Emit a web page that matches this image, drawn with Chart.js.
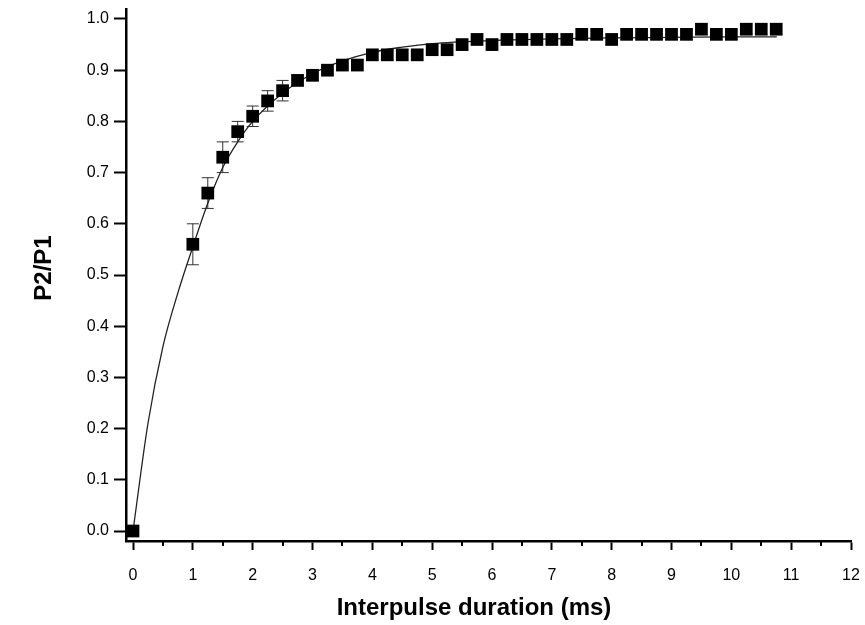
<!DOCTYPE html>
<html><head><meta charset="utf-8">
<script src="https://cdn.jsdelivr.net/npm/chart.js@4"></script>
<style>html,body{margin:0;padding:0;background:#fff}</style>
</head><body>
<canvas id="c" width="865" height="625" style="width:865px;height:625px;display:block"></canvas>
<script>
// Measured data (interpulse duration in ms, P2/P1 ratio, error)
const intervals = [0, 1, 1.25, 1.5, 1.75, 2, 2.25, 2.5, 2.75, 3, 3.25, 3.5, 3.75, 4, 4.25, 4.5, 4.75, 5, 5.25, 5.5, 5.75, 6, 6.25, 6.5, 6.75, 7, 7.25, 7.5, 7.75, 8, 8.25, 8.5, 8.75, 9, 9.25, 9.5, 9.75, 10, 10.25, 10.5, 10.75];
const ratios = [0, 0.56, 0.66, 0.73, 0.78, 0.81, 0.84, 0.86, 0.88, 0.89, 0.90, 0.91, 0.91, 0.93, 0.93, 0.93, 0.93, 0.94, 0.94, 0.95, 0.96, 0.95, 0.96, 0.96, 0.96, 0.96, 0.96, 0.97, 0.97, 0.96, 0.97, 0.97, 0.97, 0.97, 0.97, 0.98, 0.97, 0.97, 0.98, 0.98, 0.98];
const errors = [0, 0.04, 0.03, 0.03, 0.02, 0.02, 0.02, 0.02, 0.01, 0.01, 0.01, 0.01, 0.01, 0.01, 0.01, 0.01, 0.01, 0.01, 0.01, 0.01, 0.01, 0.01, 0.01, 0.01, 0.01, 0.01, 0.01, 0.01, 0.01, 0.01, 0.01, 0.01, 0.01, 0.01, 0.01, 0.01, 0.01, 0.01, 0.01, 0.01, 0.01];
// Fitted curve
const fitX = [0, 0.25, 0.5, 0.75, 1.0, 1.25, 1.5, 1.75, 2.0, 2.5, 3.0, 3.5, 4.0, 4.5, 5.0, 6.0, 7.0, 8.0, 9.0, 10.0, 10.76];
const fitY = [0, 0.21, 0.36, 0.465, 0.555, 0.64, 0.71, 0.76, 0.80, 0.855, 0.893, 0.918, 0.935, 0.945, 0.952, 0.958, 0.961, 0.963, 0.964, 0.965, 0.965];
const xTicks = [0, 1, 2, 3, 4, 5, 6, 7, 8, 9, 10, 11, 12];
const xMinorTicks = [0.5, 1.5, 2.5, 3.5, 4.5, 5.5, 6.5, 7.5, 8.5, 9.5, 10.5, 11.5];
const yTicks = [0, 0.1, 0.2, 0.3, 0.4, 0.5, 0.6, 0.7, 0.8, 0.9, 1.0];
const xTitle = 'Interpulse duration (ms)';
const yTitle = 'P2/P1';

const FONT = "'Liberation Sans', Arial, sans-serif";

const extras = {
  id: 'extras',
  beforeDatasetsDraw(chart) {
    const {ctx, scales: {x, y}} = chart;
    ctx.save();
    ctx.strokeStyle = '#333';
    ctx.lineWidth = 1;
    intervals.forEach((v, i) => {
      const e = errors[i];
      if (!e) return;
      const px = x.getPixelForValue(v);
      const top = y.getPixelForValue(ratios[i] + e);
      const bot = y.getPixelForValue(ratios[i] - e);
      ctx.beginPath();
      ctx.moveTo(px, top); ctx.lineTo(px, bot);
      ctx.moveTo(px - 6, top); ctx.lineTo(px + 6, top);
      ctx.moveTo(px - 6, bot); ctx.lineTo(px + 6, bot);
      ctx.stroke();
    });
    ctx.restore();
  },
  afterDraw(chart) {
    const {ctx, chartArea, scales: {x}} = chart;
    ctx.save();
    ctx.strokeStyle = '#000';
    ctx.lineWidth = 2;
    xMinorTicks.forEach(v => {
      const px = Math.round(x.getPixelForValue(v));
      ctx.beginPath();
      ctx.moveTo(px, chartArea.bottom);
      ctx.lineTo(px, chartArea.bottom + 5);
      ctx.stroke();
    });
    ctx.fillStyle = '#000';
    ctx.font = "bold 24px " + FONT;
    ctx.textAlign = 'center';
    ctx.textBaseline = 'middle';
    ctx.fillText(xTitle, 474, 608);
    ctx.translate(44, 268);
    ctx.rotate(-Math.PI / 2);
    ctx.fillText(yTitle, 0, 0);
    ctx.restore();
  }
};

new Chart(document.getElementById('c'), {
  type: 'scatter',
  data: {
    datasets: [
      {
        data: intervals.map((v, i) => ({x: v, y: ratios[i]})),
        pointStyle: 'rect',
        pointRadius: 9,
        pointBackgroundColor: '#000',
        pointBorderColor: '#000',
        pointBorderWidth: 0,
        showLine: false
      },
      {
        data: fitX.map((v, i) => ({x: v, y: fitY[i]})),
        showLine: true,
        pointRadius: 0,
        borderColor: '#222',
        borderWidth: 1.3,
        cubicInterpolationMode: 'monotone',
        fill: false
      }
    ]
  },
  options: {
    responsive: false,
    animation: false,
    layout: {padding: {top: 7, right: 14, bottom: 0, left: 0}},
    plugins: {legend: {display: false}, tooltip: {enabled: false}},
    scales: {
      x: {
        type: 'linear',
        min: -0.117,
        max: 12,
        afterBuildTicks: s => { s.ticks = xTicks.map(v => ({value: v})); },
        afterFit: s => { s.height = 84; s.paddingLeft = 0; s.paddingRight = 0; },
        grid: {drawOnChartArea: false, drawTicks: true, tickLength: 9, tickColor: '#000', tickWidth: 2},
        border: {display: true, color: '#000', width: 2.5},
        ticks: {color: '#000', font: {family: FONT, size: 16}, padding: 16, maxRotation: 0, autoSkip: false, callback: v => String(v)}
      },
      y: {
        type: 'linear',
        min: -0.0195,
        max: 1.0195,
        afterBuildTicks: s => { s.ticks = yTicks.map(v => ({value: v})); },
        afterFit: s => { s.width = 126; s.paddingTop = 0; s.paddingBottom = 0; },
        grid: {drawOnChartArea: false, drawTicks: true, tickLength: 12, tickColor: '#000', tickWidth: 2},
        border: {display: true, color: '#000', width: 2.5},
        ticks: {color: '#000', font: {family: FONT, size: 16}, padding: 5, autoSkip: false, callback: v => v.toFixed(1)}
      }
    }
  },
  plugins: [extras]
});
</script>
</body></html>
